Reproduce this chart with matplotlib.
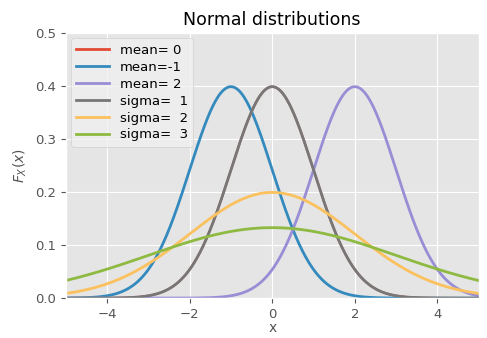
import numpy as np
import matplotlib
matplotlib.use("Agg")
import matplotlib.pyplot as plt

plt.style.use("ggplot")

# curve parameters (mean, sigma)
means = [0, -1, 2, 0, 0, 0]
sigmas = [1, 1, 1, 1, 2, 3]
labels = ["mean= 0", "mean=-1", "mean= 2", "sigma=  1", "sigma=  2", "sigma=  3"]

x = np.linspace(-5, 5, 500)

fig, ax = plt.subplots(figsize=(4.87, 3.38), dpi=100)
for i, (mu, s, lab) in enumerate(zip(means, sigmas, labels)):
    pdf = np.exp(-0.5 * ((x - mu) / s) ** 2) / (s * np.sqrt(2 * np.pi))
    # the mean=0 curve sits under sigma=1, keep it from bleeding at the edges
    ax.plot(x, pdf, lw=1.6 if i == 0 else 2, label=lab)

ax.set_xlim(-5, 5)
ax.set_ylim(0, 0.5)
ax.set_title("Normal distributions", fontsize=12.5)
ax.set_xlabel("x", fontsize=10, labelpad=0)
ax.set_ylabel("$F_X(x)$", fontsize=10)
ax.tick_params(labelsize=9.5, labelcolor="#555555")
leg = ax.legend(loc="upper left", fontsize=9.5, facecolor="#f0f0f0", handlelength=2.5,
                borderaxespad=0.4, labelspacing=0.3)
for h in leg.get_lines():
    h.set_linewidth(2)

fig.subplots_adjust(left=0.135, right=0.983, top=0.902, bottom=0.118)
fig.savefig("out.png")
